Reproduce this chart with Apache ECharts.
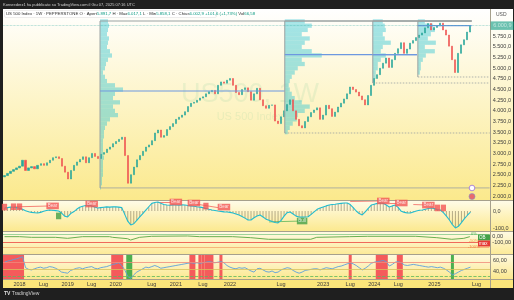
<!DOCTYPE html>
<html><head><meta charset="utf-8">
<script src="https://cdn.jsdelivr.net/npm/echarts@6/dist/echarts.min.js"></script>
<style>html,body{margin:0;padding:0;background:#1e1e1e;}#c{width:514px;height:300px;}</style>
</head><body><div id="c"></div>
<script>
// ---------- data ----------
const closes = [2480,2530,2580,2620,2660,2700,2840,2600,2660,2690,
2640,2720,2760,2720,2780,2840,2900,2920,2880,2700,
2560,2400,2600,2720,2800,2860,2920,2780,2900,3000,
2930,2880,2980,3020,3100,3150,3230,3280,3330,3380,
2950,2300,2500,2680,2850,2950,3050,3150,3200,3300,
3480,3550,3380,3420,3560,3630,3700,3800,3850,3900,
3980,4100,4180,4200,4250,4300,4330,4400,4450,4480,
4400,4600,4680,4650,4720,4760,4600,4430,4380,4500,
4540,4450,4250,4400,4530,4260,4120,4060,4130,4140,
3760,3700,3860,4000,4150,4260,4000,3800,3650,3600,
3750,3860,3960,4020,4070,3800,3900,4130,4050,3870,
3970,4090,4180,4280,4400,4560,4500,4440,4350,4260,
4140,4360,4600,4760,4850,5000,5120,5240,5020,5200,
5350,5460,5600,5350,5450,5590,5650,5720,5780,5830,
5950,6050,5900,5960,6000,6060,5900,5780,5520,5200,
4900,5350,5550,5670,5850,6000.9];
const firstOpen = 2450;
const lastPrice = 6000.9;

const oscValues = [18,20,23,22,20,17,10,2,-4,-8,
-10,-12,-8,-2,3,6,4,2,0,-12,
-30,-35,-15,-5,10,22,28,32,35,30,
24,18,20,22,24,23,24,24,23,20,
-20,-60,-82,-75,-55,-35,-15,5,25,45,
50,53,45,38,35,34,36,35,34,36,
35,32,30,28,25,23,20,15,10,6,
3,0,-2,-5,-6,-8,-12,-18,-24,-32,
-42,-53,-53,-40,-30,-24,-35,-48,-55,-62,
-68,-70,-55,-30,-10,-6,-18,-30,-35,-36,
-35,-34,-20,-5,10,18,24,30,35,38,
40,43,45,47,47,38,20,0,-15,-23,
-5,15,35,40,45,47,45,35,24,30,
35,20,-2,-8,-12,-12,-6,0,4,6,
10,15,18,14,8,6,-10,-30,-53,-80,
-100,-90,-68,-45,-25,-6];

const rsiValues = [56,58,59,61,62,64,66,46,43,42,
44,46,47,45,46,48,47,45,42,38,
37,36,41,43,45,46,44,46,47,48,
45,44,46,47,48,50,52,53,55,50,
42,30,27,33,38,41,44,47,46,48,
50,48,45,46,47,48,49,50,51,52,
53,54,55,54,55,54,55,56,57,56,
55,56,57,55,50,47,45,44,46,45,
46,43,40,38,44,45,42,39,38,40,
37,38,42,44,46,45,41,38,36,38,
41,42,43,44,44,42,44,46,45,44,
46,48,49,51,53,55,53,50,46,42,
45,49,54,56,57,58,59,57,49,52,
56,57,55,51,50,51,52,51,50,49,
48,47,48,47,46,47,45,42,38,33,
35,38,41,43,45,47];

const trendPoints = [[0,-11],[5,-11],[9,-22],[17,-22],[21,-39],[26,-11],[35,-11],[36,-22],[41,-45],[42,-67],[45,-22],[49,-5],[61,0],[65,-11],[76,-11],[82,-28],[88,-55],[102,-55],[104,-22],[115,-11],[121,-5],[137,-5],[144,-28],[149,-55],[153,-39],[155,-11]];
const pane2Levels = [33, -100, -183];
const pane3Levels = [55, 44, 31];

// signal bands on the lower pane: [first bar, last bar, 1 = red / -1 = green]
const signalBands = [[0,6,1],[36,39,1],[62,63,1],[65,65,1],[66,66,1],[67,69,1],[72,72,1],[115,115,1],[124,127,1],[131,132,1],[41,42,-1],[149,149,-1]];

// Bear / Bull tags on the oscillator: [bar, value, text]
const bearMarks = [[0,23,''],[3,25,''],[5,25,''],[16,30,'Bear'],[29,41,'Bear'],[57,53,'Bear'],[63,47,'Bear'],[67,29,''],[73,23,'Bear'],[126,59,'Bear'],[132,47,'Bear'],[141,35,'Bear'],[144,18,''],[146,18,'']];
const bullMarks = [[18,-29,''],[99,-59,'Bull']];
const bearLines = [[[3,24],[16,30]],[[51,53],[57,53]],[[64,40],[71,20]],[[115,56],[125,59]],[[128,47],[132,47]],[[136,38],[141,35]]];
const bullLines = [[[88,-64],[99,-59]]];

// volume profiles: start bar, high, low, POC
const profileStart = [31.8, 93.3, 122.6, 137.6];
const profileHigh = [6110, 6110, 6110, 6110];
const profileLow = [2190, 3480, 4654, 4795];
const pocPrice = [4466, 5320, 5320, 6000];
const pocEnd = [93.3, 137.3, 137.3, 155.5];
const vp1 = [[6100,8],[6000,9],[5900,8],[5800,7],[5700,9],[5600,8],[5500,7],[5400,10],[5300,12],[5200,8],[5100,6],[5000,5],[4900,3],[4800,5],[4700,7],[4600,15],[4500,23],[4400,15],[4300,13],[4200,20],[4100,13],[4000,15],[3900,18],[3800,10],[3700,7],[3600,5],[3500,4],[3400,4],[3300,3],[3200,3],[3100,3],[3000,3],[2900,4],[2800,3],[2700,3],[2600,3],[2500,3],[2400,2],[2300,2],[2200,1]];
const vp2 = [[6100,20],[6000,27],[5900,23],[5800,17],[5700,25],[5600,20],[5500,17],[5400,27],[5300,37],[5200,17],[5100,20],[5000,13],[4900,10],[4800,7],[4700,5],[4600,4],[4500,5],[4400,7],[4300,10],[4200,17],[4100,25],[4000,20],[3900,13],[3800,12],[3700,8],[3600,5],[3500,3]];
const vp3 = [[6100,10],[6000,12],[5900,13],[5800,10],[5700,12],[5600,18],[5500,10],[5400,8],[5300,13],[5200,8],[5100,5],[5000,5],[4900,3],[4800,3],[4700,2]];
const vp4 = [[6100,7],[6000,15],[5900,17],[5800,13],[5700,10],[5600,18],[5500,7],[5400,17],[5300,8],[5200,5],[5100,3],[5000,3],[4900,2]];
const profiles = [vp1, vp2, vp3, vp4];

const barCount = 162;
const tickBars = [5,13,21,29,37,49,57,66,75,92,106,115,123,131,143,157];
const tickLabels = ['2018','Lug','2019','Lug','2020','Lug','2021','Lug','2022','Lug','2023','Lug','2024','Lug','2025','Lug'];

// ---------- helpers ----------
function fmtIt(v, dec) {
  const s = Math.abs(v).toFixed(dec);
  let [a, b] = s.split('.');
  a = a.replace(/\B(?=(\d{3})+(?!\d))/g, '.');
  return (v < 0 ? '-' : '') + a + (b ? ',' + b : '');
}
const near = (a, b) => Math.abs(a - b) < 1e-6;
const FONT = 'Liberation Sans, Arial, sans-serif';
const categories = Array.from({length: barCount}, (_, i) => String(i));
const candleData = closes.map((c, i) => {
  const o = i ? closes[i - 1] : firstOpen;
  return [o, c, Math.min(o, c), Math.max(o, c)];
});
const profileRows = [];
profiles.forEach((p, k) => p.forEach(r => profileRows.push([k, r[0], r[1]])));
const ROW_HALF = 50, VOL_PX = 1;

const L = 3, R = 24;
const grids = [
  {left: L, right: R, top: 9, height: 191.26},
  {left: L, right: R, top: 200, height: 31.4},
  {left: L, right: R, top: 231, height: 23},
  {left: L, right: R, top: 254, height: 25.25},
  {left: L, right: R, top: 279.3, height: 1}
];
const xAxes = grids.map((g, i) => ({
  gridIndex: i, type: 'category', data: categories, boundaryGap: true,
  axisLine: {show: false}, axisTick: {show: false}, splitLine: {show: false},
  axisLabel: i === 4 ? {
    show: true, interval: (idx) => tickBars.includes(idx),
    formatter: (v, idx) => tickLabels[tickBars.indexOf(idx)] || '',
    fontSize: 5.5, color: '#3a3a3a', margin: 1.6, fontFamily: FONT
  } : {show: false}
}));
const yBase = {position: 'right', axisLine: {show: false}, axisTick: {show: false}, splitLine: {show: false}};
const lab = (f) => ({show: true, formatter: f, fontSize: 5.5, color: '#3c3c3c', margin: 3, fontFamily: FONT});
const yAxes = [
  Object.assign({gridIndex: 0, min: 1900, max: 6392, interval: 50,
    axisLabel: lab(v => (near(v % 250, 0) && v >= 2000 && v <= 5750) ? fmtIt(v, 1) : '')}, yBase),
  Object.assign({gridIndex: 1, min: -120, max: 64.7, interval: 20,
    axisLabel: lab(v => (near(v, 0) || near(v, -100)) ? fmtIt(v, 1) : '')}, yBase),
  Object.assign({gridIndex: 2, min: -300, max: 83.3, interval: 100,
    axisLabel: lab(v => (near(v, 0) || near(v, -100)) ? fmtIt(v, 2) : '')}, yBase),
  Object.assign({gridIndex: 3, min: 25, max: 70.9, interval: 5,
    axisLabel: lab(v => (near(v, 40) || near(v, 60)) ? fmtIt(v, 2) : '')}, yBase),
  Object.assign({gridIndex: 4, min: 0, max: 1, show: false}, yBase)
];

function grad(a, b) {
  return {type: 'linear', x: 0, y: 0, x2: 0, y2: 1, colorStops: [{offset: 0, color: a}, {offset: 1, color: b}]};
}
const tagLabel = (txt, bg, x, y, w) => ([
  {type: 'rect', shape: {x: x, y: y - 3, width: w, height: 6}, style: {fill: bg}, z: 50},
  {type: 'text', x: x + 1, y: y, style: {text: txt, fill: '#fff', font: '4.5px ' + FONT, verticalAlign: 'middle', textVerticalAlign: 'middle'}, z: 51}
]);

const graphics = [
  {type: 'rect', shape: {x: 0, y: 0, width: 514, height: 300}, style: {fill: '#1f1f1f'}, z: -10},
  {type: 'rect', shape: {x: 3, y: 9, width: 510, height: 191}, style: {fill: grad('#ffffff', '#fbe98c')}, z: -9},
  {type: 'rect', shape: {x: 3, y: 200, width: 510, height: 31}, style: {fill: grad('#fffcea', '#fce98f')}, z: -9},
  {type: 'rect', shape: {x: 3, y: 231, width: 510, height: 23}, style: {fill: grad('#fffbe6', '#fcea98')}, z: -9},
  {type: 'rect', shape: {x: 3, y: 254, width: 510, height: 25}, style: {fill: grad('#fffae2', '#fbe88e')}, z: -9},
  {type: 'rect', shape: {x: 3, y: 279, width: 510, height: 9}, style: {fill: '#fbe57a'}, z: -9},
  // separators
  {type: 'line', shape: {x1: 3, y1: 200.5, x2: 513, y2: 200.5}, style: {stroke: '#a6a08c', lineWidth: 1}, z: 5},
  {type: 'line', shape: {x1: 3, y1: 231.5, x2: 513, y2: 231.5}, style: {stroke: '#a6a08c', lineWidth: 1}, z: 5},
  {type: 'line', shape: {x1: 3, y1: 254.5, x2: 513, y2: 254.5}, style: {stroke: '#a6a08c', lineWidth: 1}, z: 5},
  {type: 'line', shape: {x1: 3, y1: 279.5, x2: 513, y2: 279.5}, style: {stroke: '#a6a08c', lineWidth: 1}, z: 5},
  {type: 'line', shape: {x1: 490.5, y1: 9, x2: 490.5, y2: 288}, style: {stroke: '#a6a08c', lineWidth: 1}, z: 5},
  // watermark
  {type: 'text', x: 250, y: 95, style: {text: 'US500, 1W', font: '27px ' + FONT, fill: 'rgba(110,200,150,0.14)', align: 'center', verticalAlign: 'middle', textAlign: 'center', textVerticalAlign: 'middle'}, z: 0},
  {type: 'text', x: 250, y: 117, style: {text: 'US 500 Index', font: '11px ' + FONT, fill: 'rgba(110,200,150,0.14)', align: 'center', verticalAlign: 'middle', textAlign: 'center', textVerticalAlign: 'middle'}, z: 0},
  // title and legend
  {type: 'text', x: 3, y: 4.5, style: {text: 'Konsrederz1 ha pubblicato su TradingView.com il Giu 07, 2025 07:16 UTC', font: '4px ' + FONT, fill: '#cfcfcf', verticalAlign: 'middle', textVerticalAlign: 'middle'}, z: 60},
  {type: 'rect', shape: {x: 4.5, y: 10.5, width: 212, height: 7, r: 1.5}, style: {fill: 'rgba(255,255,255,0.85)', stroke: '#dcdcdc', lineWidth: 0.5}, z: 59},
  {type: 'text', x: 6, y: 14, style: {
    text: '{d|US 500 Index · 1W · PEPPERSTONE} {d|O · Apert}{g|5.891,7} {d|H · Max}{g|6.017,1} {d|L · Min}{g|5.858,1} {d|C · Chius}{g|6.002,9} {g|+101,6 (+1,73%)} {d|Vol}{g|66,58}',
    font: '4.3px ' + FONT, verticalAlign: 'middle', textVerticalAlign: 'middle',
    rich: {d: {fill: '#2a2a2a', color: '#2a2a2a', fontSize: 4.3, fontFamily: FONT}, g: {fill: '#089981', color: '#089981', fontSize: 4.3, fontFamily: FONT}}
  }, z: 60},
  {type: 'text', x: 496, y: 15, style: {text: 'USD', font: '5px ' + FONT, fill: '#555', verticalAlign: 'middle', textVerticalAlign: 'middle'}, z: 60},
  // icons
  {type: 'circle', shape: {cx: 472, cy: 188, r: 2.8}, style: {fill: '#fff', stroke: '#9b6fd8', lineWidth: 0.8}, z: 40},
  {type: 'circle', shape: {cx: 472, cy: 196.5, r: 3}, style: {fill: '#e96b6b', stroke: '#7f8fd0', lineWidth: 0.6}, z: 40},
  // pane 2 right tags
  {type: 'text', x: 471, y: 234, style: {text: '0%', font: '4px ' + FONT, fill: '#4caf50', verticalAlign: 'middle', textVerticalAlign: 'middle'}, z: 50},
  {type: 'text', x: 469, y: 240.5, style: {text: '-50%', font: '4px ' + FONT, fill: '#f0a040', verticalAlign: 'middle', textVerticalAlign: 'middle'}, z: 50},
  {type: 'text', x: 468, y: 247, style: {text: '-100%', font: '4px ' + FONT, fill: '#f08040', verticalAlign: 'middle', textVerticalAlign: 'middle'}, z: 50}
].concat(tagLabel('OB', '#43a047', 478, 237.5, 12), tagLabel('max', '#e53935', 478, 243.5, 12),
  [{type: 'text', x: 4, y: 294, style: {text: '{b|TV} TradingView', font: '5px ' + FONT, fill: '#d0d0d0', verticalAlign: 'middle', textVerticalAlign: 'middle', rich: {b: {fontWeight: 'bold', fill: '#e0e0e0', color: '#e0e0e0', fontSize: 5}}}, z: 60}]);

const series = [
  { // volume profiles
    type: 'custom', xAxisIndex: 0, yAxisIndex: 0, z: 1, silent: true,
    data: profileRows,
    renderItem(params, api) {
      const k = api.value(0), price = api.value(1), vol = api.value(2);
      const bw = api.size([1, 0])[0];
      const x = api.coord([0, price])[0] + profileStart[k] * bw;
      const y1 = api.coord([0, price + ROW_HALF])[1], y2 = api.coord([0, price - ROW_HALF])[1];
      return {type: 'rect', shape: {x: x, y: y1, width: vol * VOL_PX, height: y2 - y1},
        style: {fill: 'rgba(50,198,210,0.45)'}};
    }
  },
  { // profile boxes & POC
    type: 'custom', xAxisIndex: 0, yAxisIndex: 0, z: 4, silent: true,
    data: profileStart.map((s, k) => [s, profileLow[k]]),
    renderItem(params, api) {
      const k = params.dataIndex, cs = params.coordSys;
      const bw = api.size([1, 0])[0];
      const x0 = api.coord([0, 3000])[0];
      const xs = x0 + profileStart[k] * bw;
      const xe = x0 + (closes.length - 0.5) * bw;
      const yH = api.coord([0, profileHigh[k]])[1];
      const yL = api.coord([0, profileLow[k]])[1];
      const yP = api.coord([0, pocPrice[k]])[1];
      const grey = '#9aa2a2';
      return {type: 'group', children: [
        {type: 'line', shape: {x1: xs, y1: yH, x2: xs, y2: yL}, style: {stroke: grey, lineWidth: 1}},
        {type: 'line', shape: {x1: xs, y1: yH, x2: xe, y2: yH}, style: {stroke: grey, lineWidth: 1}},
        {type: 'line', shape: {x1: xs, y1: yL, x2: cs.x + cs.width, y2: yL}, style: {stroke: grey, lineWidth: 0.8, lineDash: k ? [1.5, 1.5] : null}},
        {type: 'line', shape: {x1: xs, y1: yP, x2: x0 + pocEnd[k] * bw, y2: yP}, style: {stroke: '#6d98e0', lineWidth: 1.2}}
      ]};
    }
  },
  {
    type: 'candlestick', xAxisIndex: 0, yAxisIndex: 0, z: 3, data: candleData, barWidth: 1.6,
    itemStyle: {color: '#26a69a', color0: '#ef5350', borderColor: '#26a69a', borderColor0: '#ef5350', borderWidth: 0.6},
    markLine: {symbol: 'none', silent: true, animation: false,
      data: [{yAxis: lastPrice}],
      lineStyle: {type: 'dotted', color: '#26a69a', width: 0.7, opacity: 0.6},
      label: {show: true, position: 'end', distance: 1, formatter: () => fmtIt(lastPrice, 1),
        backgroundColor: '#089981', color: '#fff', fontSize: 5.5, padding: [1.5, 2.5, 1, 2.5], fontFamily: FONT}}
  },
  { // oscillator histogram
    type: 'bar', xAxisIndex: 1, yAxisIndex: 1, data: oscValues, barWidth: 1, silent: true,
    itemStyle: {color: 'rgba(110,100,75,0.5)'}
  },
  {
    type: 'line', xAxisIndex: 1, yAxisIndex: 1, data: oscValues, symbol: 'none', silent: true,
    lineStyle: {color: '#20bcd0', width: 1.1}
  },
  {
    type: 'lines', coordinateSystem: 'cartesian2d', xAxisIndex: 1, yAxisIndex: 1, silent: true,
    data: bearLines.map(c => ({coords: c})), lineStyle: {color: '#ef5350', width: 0.8, opacity: 0.9}
  },
  {
    type: 'lines', coordinateSystem: 'cartesian2d', xAxisIndex: 1, yAxisIndex: 1, silent: true,
    data: bullLines.map(c => ({coords: c})), lineStyle: {color: '#4caf50', width: 0.8, opacity: 0.9}
  },
  {
    type: 'scatter', xAxisIndex: 1, yAxisIndex: 1, symbolSize: 0, z: 6, silent: true,
    data: bearMarks,
    label: {show: true, position: 'inside', formatter: p => p.value[2] || '\u2002', backgroundColor: '#f25555',
      color: '#fff', fontSize: 4.5, padding: [0.8, 1.5], fontFamily: FONT}
  },
  {
    type: 'scatter', xAxisIndex: 1, yAxisIndex: 1, symbolSize: 0, z: 6, silent: true,
    data: bullMarks,
    label: {show: true, position: 'inside', formatter: p => p.value[2] || '\u2002', backgroundColor: '#43a047',
      color: '#fff', fontSize: 4.5, padding: [0.8, 1.5], fontFamily: FONT}
  },
  { // pane 2 trend line
    type: 'line', xAxisIndex: 2, yAxisIndex: 2, data: trendPoints, symbol: 'none', silent: true,
    lineStyle: {color: '#6aaf50', width: 1},
    markLine: {symbol: 'none', silent: true, animation: false, label: {show: false},
      data: pane2Levels.map((v, i) => ({yAxis: v, lineStyle: {color: ['#9ed39a', '#f06a5a', '#f7b57a'][i], width: 1, type: 'solid'}}))}
  },
  { // pane 3 signal bands
    type: 'custom', xAxisIndex: 3, yAxisIndex: 3, z: 1, silent: true,
    data: signalBands,
    renderItem(params, api) {
      const s = api.value(0), e = api.value(1), kind = api.value(2);
      const bw = api.size([1, 0])[0], cs = params.coordSys;
      const x1 = api.coord([s, 50])[0] - bw / 2, x2 = api.coord([e, 50])[0] + bw / 2;
      return {type: 'rect', shape: {x: x1, y: cs.y, width: x2 - x1, height: cs.height},
        style: {fill: kind > 0 ? '#f45b5b' : '#4caf50'}};
    }
  },
  {
    type: 'line', xAxisIndex: 3, yAxisIndex: 3, data: rsiValues, symbol: 'none', z: 4, silent: true,
    lineStyle: {color: '#5b9fdc', width: 0.9},
    markLine: {symbol: 'none', silent: true, animation: false, label: {show: false},
      data: pane3Levels.map((v, i) => ({yAxis: v, lineStyle: {color: ['#f08a7a', '#d8c25a', '#5cb85c'][i], width: 0.8, type: i === 2 ? 'dashed' : 'solid'}}))}
  }
];

const chart = echarts.init(document.getElementById('c'), null, {renderer: 'canvas'});
chart.setOption({
  animation: false,
  backgroundColor: 'transparent',
  grid: grids, xAxis: xAxes, yAxis: yAxes,
  graphic: {elements: graphics},
  series: series
});
</script></body></html>
